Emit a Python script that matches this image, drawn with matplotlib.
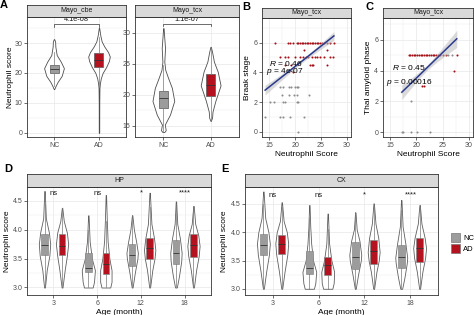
"""Neutrophil score figure: violins (A, D, E) and Braak / Thal correlations (B, C)."""

import numpy as np
import matplotlib
matplotlib.use('Agg')
import matplotlib.pyplot as plt
from matplotlib.patches import Patch

plt.rcParams['font.family'] = ['Liberation Sans', 'DejaVu Sans']
plt.rcParams['mathtext.fontset'] = 'custom'
plt.rcParams['mathtext.it'] = 'Liberation Sans:italic'
plt.rcParams['mathtext.rm'] = 'Liberation Sans'

W, H = 474, 315
NC_FILL, AD_FILL = '#9C9C9C', '#B3121E'
GRID, BORDER, TICK = '#EBEBEB', '#333333', '#4D4D4D'

# ── A: Mayo cohorts ───────────────────────────────────────────
A_FACETS = ['Mayo_cbe', 'Mayo_tcx']
A_GROUPS = ['NC', 'AD']
A_PVAL   = ['4.1e-08', '1.1e-07']
A_PVAL_Y = [36.3, 31.45]
# box stats: q1, median, q3, whisker low, whisker high
A_BOX = {
    'Mayo_cbe': [(19.9, 21.3, 22.7, 15.8, 26.9), (22.1, 24.3, 26.6, 15.4, 32.0)],
    'Mayo_tcx': [(17.8, 19.5, 20.6, 14.0, 24.8), (19.8, 21.6, 23.3, 15.8, 27.7)],
}
# violin outline: y levels and half widths
A_VIOLIN = {
    'Mayo_cbe': [
        ([14.6, 15.5, 17.0, 19.0, 21.6, 23.8, 26.0, 28.8, 30.5, 31.3],
         [0.005, 0.03, 0.08, 0.17, 0.22, 0.15, 0.06, 0.03, 0.025, 0.005]),
        ([0.0, 10.0, 15.0, 16.5, 18.2, 20.0, 22.0, 24.0, 25.5, 27.0, 28.8, 30.5, 32.5, 34.0, 35.0],
         [0.005, 0.006, 0.01, 0.02, 0.04, 0.08, 0.16, 0.22, 0.24, 0.20, 0.12, 0.06, 0.03, 0.015, 0.005]),
    ],
    'Mayo_tcx': [
        ([14.0, 14.3, 15.2, 16.8, 19.0, 21.1, 22.7, 24.0, 25.3, 27.5, 29.1, 30.7],
         [0.02, 0.05, 0.03, 0.14, 0.23, 0.18, 0.10, 0.04, 0.02, 0.035, 0.02, 0.005]),
        ([15.8, 16.3, 17.3, 19.0, 21.5, 23.7, 25.3, 26.9, 27.7],
         [0.005, 0.03, 0.04, 0.10, 0.21, 0.15, 0.07, 0.03, 0.005]),
    ],
}

# ── B: Braak stage vs neutrophil score ────────────────────────
B_AD_X = [16.1, 18.7, 19.0, 19.6, 20.3, 20.6, 20.9, 21.3, 21.6, 21.9, 22.2, 22.5, 22.9, 23.2,
          23.5, 23.8, 24.2, 24.5, 24.8, 25.1, 25.5, 26.1, 26.7, 27.5,
          17.1, 18.0, 18.7, 20.0, 20.9, 21.6, 22.1, 22.5, 23.2, 23.8, 24.3, 24.8, 25.5, 26.7, 27.4,
          18.0, 19.3, 22.9, 23.2, 23.5, 26.2, 21.7, 26.1, 19.5]
B_AD_Y = [6] * 24 + [5] * 15 + [4.5] * 6 + [5.5, 5.5, 4]
B_NC_X = [17.1, 17.7, 18.9, 19.2, 20.0, 20.3, 20.6,
          17.4, 18.9, 19.8, 20.3, 22.7,
          15.1, 16.0, 17.7, 18.0, 20.3, 20.6,
          14.2, 17.1, 17.6, 19.1, 21.7,
          20.6]
B_NC_Y = [3] * 7 + [2.5] * 5 + [2] * 6 + [1] * 5 + [0]
B_FIT  = (0.274, -1.09)        # slope, intercept
B_BAND = (0.12, 0.044)         # se at mean, growth
B_R, B_P = '0.46', '4e-07'

# ── C: Thal amyloid phase vs neutrophil score ────────────────
C_AD_X = [18.5, 18.8, 19.1, 19.5, 19.8, 20.1, 20.5, 20.8, 21.1, 21.4, 21.8, 22.1, 22.4, 22.8,
          23.1, 23.4, 23.7, 24.1, 24.4, 25.1, 25.7, 27.7, 27.2, 21.1, 21.4]
C_AD_Y = [5] * 22 + [4, 3, 3]
C_NC_X = [26.1, 26.7, 18.9, 17.2, 17.5, 18.9, 20.1, 22.6]
C_NC_Y = [5, 5, 2, 0, 0, 0, 0, 0]
C_FIT  = (0.329, -3.06)
C_BAND = (0.18, 0.0915)
C_R, C_P = '0.45', '0.00016'

# ── D / E: mouse ages ─────────────────────────────────────────
AGES    = ['3', '6', '12', '18']
SIGNIF  = ['ns', 'ns', '*', '****']
D_BOX = {   # q1, med, q3, whislo, whishi
    'NC': [(3.57, 3.73, 3.92, 3.02, 4.45), (3.26, 3.34, 3.60, 3.0, 4.00),
           (3.37, 3.56, 3.75, 3.0, 4.25), (3.40, 3.60, 3.83, 3.0, 4.45)],
    'AD': [(3.57, 3.72, 3.92, 3.02, 4.38), (3.23, 3.40, 3.60, 3.0, 4.15),
           (3.49, 3.69, 3.86, 3.0, 4.40), (3.53, 3.73, 3.92, 3.0, 4.41)],
}
E_BOX = {
    'NC': [(3.59, 3.78, 3.96, 3.02, 4.50), (3.26, 3.36, 3.66, 3.0, 4.25),
           (3.35, 3.57, 3.82, 3.0, 4.35), (3.36, 3.56, 3.78, 3.0, 4.40)],
    'AD': [(3.62, 3.79, 3.95, 3.02, 4.45), (3.24, 3.42, 3.57, 3.0, 4.05),
           (3.44, 3.66, 3.86, 3.0, 4.50), (3.48, 3.72, 3.90, 3.0, 4.48)],
}
D_VIOLIN = {
    'NC': [([3.0, 3.3, 3.55, 3.75, 3.95, 4.2, 4.67], [0.01, 0.05, 0.11, 0.13, 0.10, 0.03, 0.005]),
           ([3.0, 3.1, 3.3, 3.5, 3.8, 4.25], [0.10, 0.13, 0.15, 0.08, 0.03, 0.005]),
           ([3.0, 3.25, 3.5, 3.6, 3.8, 4.0, 4.25], [0.01, 0.06, 0.12, 0.13, 0.09, 0.04, 0.005]),
           ([3.0, 3.2, 3.45, 3.6, 3.85, 4.1, 4.49], [0.02, 0.07, 0.12, 0.13, 0.09, 0.03, 0.005])],
    'AD': [([3.0, 3.3, 3.55, 3.75, 3.95, 4.15, 4.38], [0.01, 0.06, 0.11, 0.14, 0.11, 0.04, 0.005]),
           ([3.0, 3.1, 3.3, 3.5, 3.8, 4.2, 4.6], [0.10, 0.13, 0.13, 0.08, 0.04, 0.02, 0.005]),
           ([3.0, 3.3, 3.5, 3.65, 3.85, 4.1, 4.64], [0.01, 0.06, 0.11, 0.13, 0.10, 0.04, 0.005]),
           ([3.0, 3.3, 3.55, 3.72, 3.9, 4.1, 4.41], [0.01, 0.06, 0.12, 0.14, 0.11, 0.04, 0.005])],
}
E_VIOLIN = {
    'NC': [([3.0, 3.3, 3.6, 3.8, 4.0, 4.25, 4.72], [0.01, 0.06, 0.12, 0.14, 0.11, 0.04, 0.005]),
           ([3.0, 3.1, 3.3, 3.5, 3.8, 4.1, 4.48], [0.10, 0.13, 0.15, 0.08, 0.04, 0.02, 0.005]),
           ([3.0, 3.25, 3.5, 3.6, 3.85, 4.05, 4.35], [0.01, 0.06, 0.12, 0.13, 0.09, 0.03, 0.005]),
           ([3.0, 3.2, 3.45, 3.55, 3.8, 4.1, 4.57], [0.02, 0.07, 0.12, 0.13, 0.09, 0.03, 0.005])],
    'AD': [([3.0, 3.3, 3.6, 3.8, 4.0, 4.2, 4.53], [0.01, 0.06, 0.12, 0.14, 0.11, 0.04, 0.005]),
           ([3.0, 3.1, 3.3, 3.5, 3.8, 4.33], [0.10, 0.13, 0.14, 0.08, 0.03, 0.005]),
           ([3.0, 3.3, 3.5, 3.65, 3.9, 4.15, 4.51], [0.01, 0.06, 0.11, 0.13, 0.10, 0.04, 0.005]),
           ([3.0, 3.3, 3.55, 3.72, 3.9, 4.15, 4.48], [0.01, 0.06, 0.12, 0.14, 0.11, 0.04, 0.005])],
}

fig = plt.figure(figsize=(W / 100, H / 100), dpi=100)


def rect(l, t, r, b):
    return [l / W, 1 - b / H, (r - l) / W, (b - t) / H]


def style(ax):
    ax.set_facecolor('white')
    ax.set_axisbelow(True)
    for sp in ax.spines.values():
        sp.set_color(BORDER)
        sp.set_linewidth(0.6)
    ax.tick_params(which='major', length=2, width=0.5, color=BORDER, labelsize=5,
                   labelcolor=TICK, pad=1.5)
    ax.tick_params(which='minor', length=0)
    ax.grid(which='major', color=GRID, linewidth=0.6)
    ax.grid(which='minor', color=GRID, linewidth=0.3)


def strip(l, t, r, b, label):
    s = fig.add_axes(rect(l, t, r, b))
    s.set_facecolor('#D9D9D9')
    s.set_xticks([])
    s.set_yticks([])
    for sp in s.spines.values():
        sp.set_color(BORDER)
        sp.set_linewidth(0.6)
    s.text(0.5, 0.5, label, ha='center', va='center', fontsize=5, color='#1A1A1A')


def violins(ax, xs, profiles, edge):
    stats = []
    for ys, ws in profiles:
        ys = np.asarray(ys, float)
        stats.append(dict(coords=ys, vals=np.asarray(ws, float), mean=ys.mean(),
                          median=np.median(ys), min=ys.min(), max=ys.max()))
    widths = [2 * max(ws) for _, ws in profiles]
    parts = ax.violin(stats, positions=xs, widths=widths, showextrema=False)
    for body in parts['bodies']:
        body.set_facecolor('white')
        body.set_edgecolor(edge)
        body.set_linewidth(0.6)
        body.set_alpha(1)


def boxes(ax, xs, box_stats, fill, width, edge):
    bx = [dict(q1=q1, med=m, q3=q3, whislo=lo, whishi=hi, fliers=[])
          for q1, m, q3, lo, hi in box_stats]
    ax.bxp(bx, positions=xs, widths=width, patch_artist=True, showcaps=False,
           showfliers=False, manage_ticks=False,
           boxprops=dict(facecolor=fill, edgecolor=edge, linewidth=0.5),
           medianprops=dict(color='#333333', linewidth=0.6),
           whiskerprops=dict(color='#777777', linewidth=0.5))


def letter(x, y_top, s):
    # baseline position given in pixels from the top edge
    fig.text(x, H - y_top, s, fontsize=8, fontweight='bold', transform=None)


# ── A ─────────────────────────────────────────────────────────
a_boxes = [(27, 126), (135, 239)]
a_ylims = [(-1.4, 38.7), (13.2, 32.5)]
a_ticks = [[0, 10, 20, 30], [15, 20, 25, 30]]
a_minor = [[5, 15, 25, 35], [17.5, 22.5, 27.5]]
for i, facet in enumerate(A_FACETS):
    l, r = a_boxes[i]
    ax = fig.add_axes(rect(l, 17, r, 137))
    style(ax)
    pos = np.arange(1, len(A_GROUPS) + 1)
    violins(ax, pos, A_VIOLIN[facet], '#4D4D4D')
    for j, fill in enumerate([NC_FILL, AD_FILL]):
        boxes(ax, [pos[j]], [A_BOX[facet][j]], fill, 0.2, '#5A5A5A')
    ax.set_xlim(0.4, 2.6)
    ax.set_ylim(*a_ylims[i])
    ax.set_xticks(pos, A_GROUPS)
    ax.set_yticks(a_ticks[i])
    ax.set_yticks(a_minor[i], minor=True)
    ax.xaxis.grid(False, which='minor')
    yb = A_PVAL_Y[i]
    drop = (a_ylims[i][1] - a_ylims[i][0]) * 0.02
    ax.plot([1, 1, 2, 2], [yb - drop, yb, yb, yb - drop], color='#333333', lw=0.5)
    ax.text(1.5, yb + drop * 0.3, A_PVAL[i], ha='center', va='bottom', fontsize=5.3,
            color='#1A1A1A')
    if i == 0:
        ax.set_ylabel('Neutrophil score', fontsize=6)
        ax.yaxis.set_label_coords(-0.13, 0.5)
    strip(l, 5, r, 17, facet)
letter(0, 7.5, 'A')

# ── B and C ───────────────────────────────────────────────────
scatter_specs = [
    ('B', (262, 351), 242, 'Braak stage', (-0.35, 7.65), B_AD_X, B_AD_Y, B_NC_X, B_NC_Y,
     B_FIT, B_BAND, B_R, B_P, (15.0, 4.6), (14.35, 4.07), -0.124),
    ('C', (383, 473), 365, 'Thal amyloid phase', (-0.3, 7.4), C_AD_X, C_AD_Y, C_NC_X, C_NC_Y,
     C_FIT, C_BAND, C_R, C_P, (15.4, 4.22), (14.1, 3.25), -0.122),
]
for (lab, (l, r), lx, ylab, ylim, adx, ady, ncx, ncy, fit, band, rv, pv,
     rpos, ppos, ylx) in scatter_specs:
    ax = fig.add_axes(rect(l, 18, r, 137))
    style(ax)
    ax.scatter(ncx, ncy, s=2.2, color='#8C8C8C', linewidths=0, zorder=2)
    ax.scatter(adx, ady, s=2.2, color='#A50F15', linewidths=0, zorder=2)
    allx = np.array(adx + ncx)
    xs = np.linspace(allx.min(), allx.max(), 60)
    yfit = fit[0] * xs + fit[1]
    hw = np.sqrt(band[0] ** 2 + (band[1] * (xs - allx.mean())) ** 2)
    ax.fill_between(xs, yfit - hw, yfit + hw, color='#BDBDBD', alpha=0.55, lw=0, zorder=3)
    ax.plot(xs, yfit, color='#2B3A8C', lw=1.1, zorder=4)
    ax.text(rpos[0], rpos[1], rf'$R$ = {rv}', fontsize=6, va='center', zorder=5)
    ax.text(ppos[0], ppos[1], rf'$p$ = {pv}', fontsize=6, va='center', zorder=5)
    ax.set_xlim(13.6, 30.8)
    ax.set_ylim(*ylim)
    ax.set_xticks([15, 20, 25, 30])
    ax.set_xticks([17.5, 22.5, 27.5], minor=True)
    ax.set_yticks([0, 2, 4, 6])
    ax.set_yticks([1, 3, 5, 7], minor=True)
    ax.set_xlabel('Neutrophil Score', fontsize=6, labelpad=1.5)
    ax.set_ylabel(ylab, fontsize=6)
    ax.yaxis.set_label_coords(ylx, 0.5)
    strip(l, 8, r, 18, 'Mayo_tcx')
    letter(lx, 9.5, lab)

# ── D and E ───────────────────────────────────────────────────
age_specs = [
    ('D', 'HP', (27, 211), 4, (2.87, 4.74), D_BOX, D_VIOLIN, 4.61, -0.087),
    ('E', 'CX', (245, 438), 221, (2.89, 4.80), E_BOX, E_VIOLIN, 4.63, -0.088),
]
pos = np.arange(1, len(AGES) + 1)
for lab, region, (l, r), lx, ylim, box_d, vio_d, sig_y, ylx in age_specs:
    ax = fig.add_axes(rect(l, 187, r, 295))
    style(ax)
    for grp, off, fill in [('NC', -0.2, NC_FILL), ('AD', 0.2, AD_FILL)]:
        violins(ax, pos + off, vio_d[grp], '#5E5E5E')
        boxes(ax, pos + off, box_d[grp], fill, 0.15, '#8A8A8A')
    for x, s in zip(pos, SIGNIF):
        ax.text(x, sig_y, s, ha='center', va='baseline', fontsize=5.5, color='#1A1A1A')
    ax.set_xlim(0.4, 4.6)
    ax.set_ylim(*ylim)
    ax.set_xticks(pos, AGES)
    ax.set_yticks([3.0, 3.5, 4.0, 4.5])
    ax.set_yticks([3.25, 3.75, 4.25], minor=True)
    ax.xaxis.grid(False, which='minor')
    ax.set_xlabel('Age (month)', fontsize=6, labelpad=1.5)
    ax.set_ylabel('Neutrophil score', fontsize=6)
    ax.yaxis.set_label_coords(ylx, 0.5)
    strip(l, 174, r, 187, region)
    letter(lx, 172, lab)
    if lab == 'E':
        handles = [Patch(facecolor=NC_FILL, edgecolor='#777777', lw=0.5),
                   Patch(facecolor=AD_FILL, edgecolor='#777777', lw=0.5)]
        ax.legend(handles, ['NC', 'AD'], loc='center left', bbox_to_anchor=(1.05, 0.48),
                  frameon=False, fontsize=5.5, handlelength=1.1, handleheight=1.3,
                  handletextpad=0.4, labelspacing=0.3, borderpad=0)

fig.savefig('out.png', dpi=100)
